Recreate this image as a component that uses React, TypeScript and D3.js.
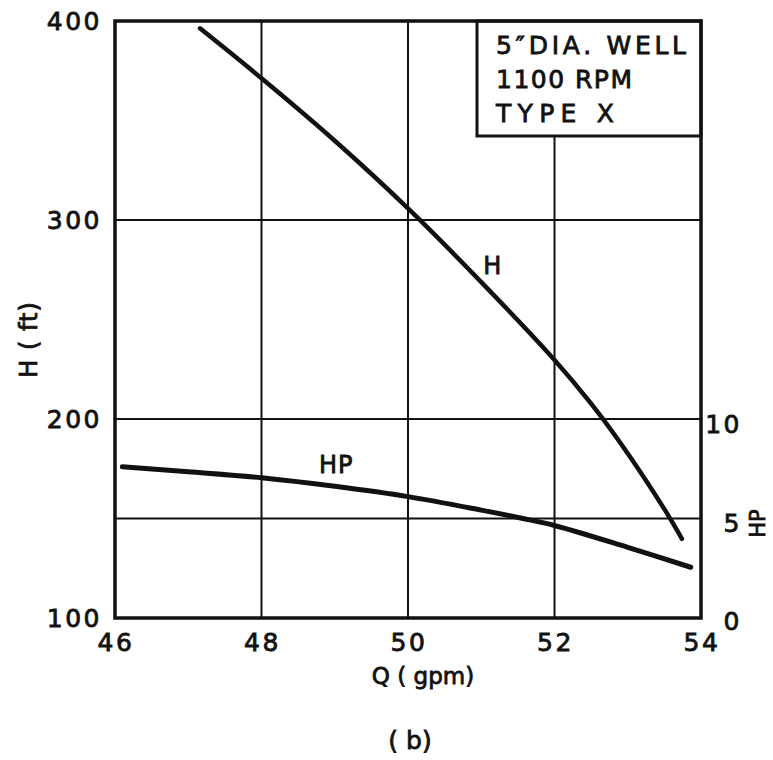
import React from "react";
import * as d3 from "d3";

const qTicks = [46, 48, 50, 52, 54];
const hTicks = [100, 200, 300, 400];
const hpTicks = [0, 5, 10];
const hGrid = [150, 200, 300];
const qGrid = [48, 50, 52];

const headQ = [47.16, 48, 49, 50, 51, 52, 52.5, 53, 53.5, 53.74];
const headH = [396.3, 371.2, 339.8, 305.8, 268.8, 229.7, 207.7, 182.7, 154.7, 139.8];

const hpQ = [46.1, 47, 48, 49, 50, 51, 51.57, 52, 53, 53.86];
const hpV = [7.6, 7.35, 7.05, 6.62, 6.1, 5.42, 5.0, 4.65, 3.55, 2.55];

const infoLines = ["5\u2033DIA. WELL", "1100 RPM", "TYPE  X"];
const infoWidths = [190, 136, 118];

const FONT = "'DejaVu Sans', Verdana, sans-serif";

export default function App() {
  const x = d3.scaleLinear().domain([46, 54]).range([115, 701]);
  const y = d3.scaleLinear().domain([100, 400]).range([618, 21]);
  const yHP = d3.scaleLinear().domain([0, 30]).range([618, 21]);

  const headLine = d3
    .line<number>()
    .x((_, i) => x(headQ[i]))
    .y((d) => y(d))
    .curve(d3.curveCatmullRom.alpha(0.5));
  const hpLine = d3
    .line<number>()
    .x((_, i) => x(hpQ[i]))
    .y((d) => yHP(d))
    .curve(d3.curveCatmullRom.alpha(0.5));

  const txt = { fontFamily: FONT, fill: "#111", stroke: "#111", strokeWidth: 0.8 };
  const boxLeft = 477;
  const boxBottom = 136;

  return (
    <svg
      width={773}
      height={760}
      style={{ position: "absolute", left: 0, top: 0, background: "#fff" }}
    >
      <rect x={0} y={0} width={773} height={760} fill="#fff" />
      {/* grid */}
      {qGrid.map((q) => (
        <line key={"qg" + q} x1={x(q)} x2={x(q)} y1={y(400)} y2={y(100)} stroke="#111" strokeWidth={2} />
      ))}
      {hGrid.map((h) => (
        <line key={"hg" + h} x1={x(46)} x2={x(54)} y1={y(h)} y2={y(h)} stroke="#111" strokeWidth={2} />
      ))}
      {/* info box */}
      <rect x={boxLeft} y={y(400)} width={x(54) - boxLeft} height={boxBottom - y(400)} fill="#fff" stroke="#111" strokeWidth={3} />
      {infoLines.map((t, i) => (
        <text key={t} x={boxLeft + 19} y={54 + i * 34} fontSize={25} textLength={infoWidths[i]} lengthAdjust="spacing" {...txt}>
          {t}
        </text>
      ))}
      {/* frame */}
      <rect x={x(46)} y={y(400)} width={x(54) - x(46)} height={y(100) - y(400)} fill="none" stroke="#111" strokeWidth={3.5} />
      {/* curves */}
      <path d={headLine(headH) || ""} fill="none" stroke="#111" strokeWidth={4.5} strokeLinecap="round" />
      <path d={hpLine(hpV) || ""} fill="none" stroke="#111" strokeWidth={5} strokeLinecap="round" />
      {/* curve labels */}
      <text x={x(51.15)} y={y(277)} fontSize={24} textAnchor="middle" dominantBaseline="central" {...txt}>H</text>
      <text x={x(49.02)} y={yHP(7.7)} fontSize={24} letterSpacing={1} textAnchor="middle" dominantBaseline="central" {...txt}>HP</text>
      {/* left axis */}
      {hTicks.map((h) => (
        <text key={"ht" + h} x={102} y={y(h)} fontSize={25} letterSpacing={2.5} textAnchor="end" dominantBaseline="central" {...txt}>
          {h}
        </text>
      ))}
      {/* right axis */}
      {hpTicks.map((v) => (
        <text key={"hp" + v} x={742} y={yHP(v) + (v === 0 ? 3 : 5)} fontSize={25} letterSpacing={2.5} textAnchor="end" dominantBaseline="central" {...txt}>
          {v}
        </text>
      ))}
      {/* bottom axis */}
      {qTicks.map((q) => (
        <text key={"qt" + q} x={x(q) + 1} y={651} fontSize={25} letterSpacing={2.5} textAnchor="middle" {...txt}>
          {q}
        </text>
      ))}
      {/* titles */}
      <text x={423} y={684} fontSize={23} textAnchor="middle" {...txt}>Q ( gpm)</text>
      <text transform={`translate(29,${y(240)}) rotate(-90)`} fontSize={24} letterSpacing={1} textAnchor="middle" dominantBaseline="central" {...txt}>
        H ( ft)
      </text>
      <text transform={`translate(758,${yHP(5) + 5}) rotate(-90)`} fontSize={21} textAnchor="middle" dominantBaseline="central" {...txt}>
        HP
      </text>
      <text x={410} y={749} fontSize={25} textAnchor="middle" {...txt}>( b)</text>
    </svg>
  );
}
